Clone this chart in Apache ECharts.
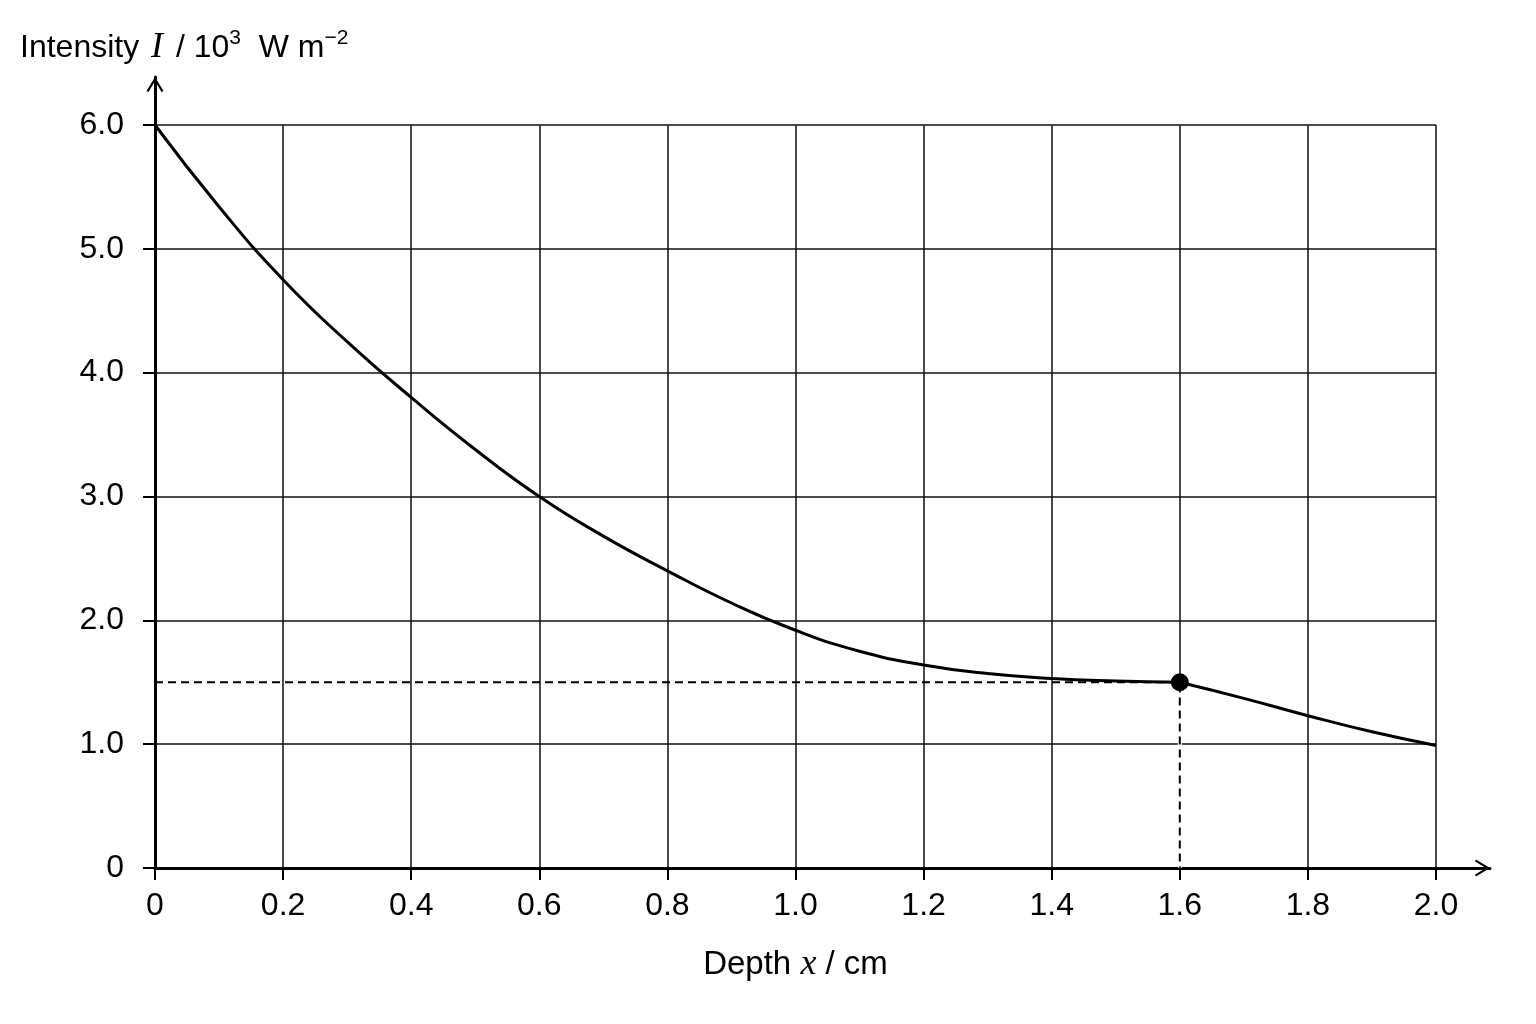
<!DOCTYPE html>
<html><head><meta charset="utf-8">
<script src="https://cdn.jsdelivr.net/npm/echarts@6/dist/echarts.min.js"></script>
<style>html,body{margin:0;padding:0;background:#fff}#c{width:1536px;height:1024px}</style>
</head><body><div id="c"></div>
<script>
// ---- data ----
const depthLeft = [0, 0.1, 0.2, 0.3, 0.4, 0.5, 0.6, 0.7, 0.8, 0.9, 1.0, 1.1, 1.2, 1.3, 1.4, 1.5, 1.6];
const intensityLeft = [6.00, 5.34, 4.75, 4.25, 3.80, 3.38, 3.00, 2.68, 2.40, 2.14, 1.92, 1.75, 1.64, 1.57, 1.53, 1.51, 1.50];
const depthRight = [1.6, 1.7, 1.8, 1.9, 2.0];
const intensityRight = [1.50, 1.37, 1.23, 1.10, 0.99];
const markedDepth = 1.6;
const markedIntensity = 1.5;
const xRange = [0, 2.0];
const xStep = 0.2;
const yRange = [0, 6];
const yStep = 1;

const pairs = (xs, ys) => xs.map((x, i) => [x, ys[i]]);
const fmt = v => (Math.abs(v) < 1e-9 ? '0' : v.toFixed(1));
const FONT = 'Liberation Sans, Arial, sans-serif';
const SERIF = 'Liberation Serif, Times New Roman, serif';
const arrowPath = 'path://M8.5,0 L17,14 L15,15 L8.5,4 L2,15 L0,14 Z';

const chart = echarts.init(document.getElementById('c'), null, {renderer: 'canvas'});
chart.setOption({
  animation: false,
  backgroundColor: '#fff',
  title: {
    left: 20, top: 28, padding: 0,
    text: '{a|Intensity }{i|I}{a| / 10}{s|3}{a|  W m}{s|\u22122}',
    textStyle: {
      fontWeight: 'normal', fontFamily: FONT, color: '#000',
      rich: {
        a: {fontFamily: FONT, fontWeight: 'normal', fontSize: 32, color: '#000', lineHeight: 40},
        i: {fontFamily: SERIF, fontWeight: 'normal', fontStyle: 'italic', fontSize: 36, color: '#000', lineHeight: 40, padding: [0, 4, 0, 3]},
        s: {fontFamily: FONT, fontWeight: 'normal', fontSize: 21, color: '#000', lineHeight: 24, verticalAlign: 'top'}
      }
    }
  },
  grid: [
    {left: 155, right: 100, top: 125, bottom: 156, containLabel: false},
    {left: 155, right: 46, top: 77, bottom: 156, containLabel: false}
  ],
  xAxis: [
    {
      type: 'value', gridIndex: 0, min: xRange[0], max: xRange[1], interval: xStep,
      name: '{a|Depth }{i|x}{a| / cm}', nameLocation: 'middle', nameGap: 79,
      nameTextStyle: {
        rich: {
          a: {fontFamily: FONT, fontSize: 33, color: '#000'},
          i: {fontFamily: SERIF, fontStyle: 'italic', fontSize: 36, color: '#000'}
        }
      },
      axisLine: {show: true, onZero: false, lineStyle: {color: '#000', width: 3}},
      axisTick: {show: true, inside: false, length: 12, lineStyle: {color: '#000', width: 2}},
      axisLabel: {show: true, margin: 22, fontFamily: FONT, fontSize: 32, color: '#000', formatter: fmt},
      splitLine: {show: true, lineStyle: {color: '#111', width: 1.5}}
    },
    {
      type: 'value', gridIndex: 1, min: 0, max: 1,
      axisLine: {show: true, onZero: false, symbol: ['none', arrowPath], symbolSize: [17, 15], symbolOffset: [0, -7.5],
        lineStyle: {color: '#000', width: 3}},
      axisTick: {show: false}, axisLabel: {show: false}, splitLine: {show: false}
    }
  ],
  yAxis: [
    {
      type: 'value', gridIndex: 0, min: yRange[0], max: yRange[1], interval: yStep,
      axisLine: {show: true, onZero: false, lineStyle: {color: '#000', width: 3}},
      axisTick: {show: true, inside: false, length: 12, lineStyle: {color: '#000', width: 2}},
      axisLabel: {show: true, margin: 31, fontFamily: FONT, fontSize: 32, color: '#000', formatter: fmt},
      splitLine: {show: true, lineStyle: {color: '#111', width: 1.5}}
    },
    {
      type: 'value', gridIndex: 1, min: 0, max: 1,
      axisLine: {show: true, onZero: false, symbol: ['none', arrowPath], symbolSize: [17, 15], symbolOffset: [0, -7.5],
        lineStyle: {color: '#000', width: 3}},
      axisTick: {show: false}, axisLabel: {show: false}, splitLine: {show: false}
    }
  ],
  series: [
    {
      name: 'gridMask', type: 'line', xAxisIndex: 0, yAxisIndex: 0, z: 1,
      data: [[markedDepth, markedIntensity], [markedDepth, yRange[0]]],
      showSymbol: false, silent: true,
      lineStyle: {color: '#fff', width: 4}
    },
    {
      name: 'guide', type: 'line', xAxisIndex: 0, yAxisIndex: 0, z: 2,
      data: [[xRange[0], markedIntensity], [markedDepth, markedIntensity], [markedDepth, yRange[0]]],
      showSymbol: false, silent: true,
      lineStyle: {color: '#000', width: 2, type: [8, 5]}
    },
    {
      name: 'curveLeft', type: 'line', xAxisIndex: 0, yAxisIndex: 0, z: 3,
      data: pairs(depthLeft, intensityLeft), smooth: 0.5,
      showSymbol: false, lineStyle: {color: '#000', width: 3}
    },
    {
      name: 'curveRight', type: 'line', xAxisIndex: 0, yAxisIndex: 0, z: 3,
      data: pairs(depthRight, intensityRight), smooth: 0.5,
      showSymbol: false, lineStyle: {color: '#000', width: 3}
    },
    {
      name: 'point', type: 'scatter', xAxisIndex: 0, yAxisIndex: 0, z: 4,
      data: [[markedDepth, markedIntensity]], symbol: 'circle', symbolSize: 18,
      itemStyle: {color: '#000', opacity: 1}
    }
  ]
});
</script></body></html>
